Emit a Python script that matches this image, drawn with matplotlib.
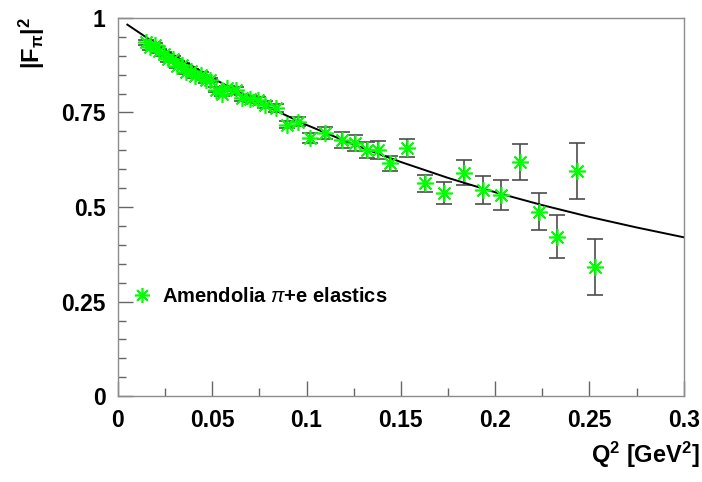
import numpy as np
import matplotlib
matplotlib.use("Agg")
import matplotlib.pyplot as plt
from matplotlib.ticker import MultipleLocator, FixedFormatter, FixedLocator

plt.rcParams['font.family'] = ['Liberation Sans', 'DejaVu Sans']
plt.rcParams['mathtext.fontset'] = 'custom'
plt.rcParams['mathtext.rm'] = 'Liberation Sans'
plt.rcParams['mathtext.bf'] = 'Liberation Sans:bold'
plt.rcParams['mathtext.it'] = 'Liberation Sans:italic'

# Amendolia pi+e elastic data
q2 = [0.0150, 0.0170, 0.0195, 0.0220, 0.0245, 0.0265, 0.0290, 0.0315, 0.0340,
      0.0360, 0.0385, 0.0410, 0.0440, 0.0465, 0.0490, 0.0520, 0.0550, 0.0580,
      0.0625, 0.0660, 0.0700, 0.0740, 0.0780, 0.0840, 0.0896, 0.0954,
      0.1018, 0.1097, 0.1187, 0.1256, 0.1320, 0.1378, 0.1440, 0.1530,
      0.1630, 0.1730, 0.1834, 0.1935, 0.2030, 0.2130, 0.2230, 0.2330,
      0.2433, 0.2528]
ff2 = [0.935, 0.922, 0.928, 0.912, 0.905, 0.890, 0.892, 0.874, 0.875,
       0.858, 0.860, 0.846, 0.850, 0.835, 0.836, 0.810, 0.800, 0.814,
       0.808, 0.788, 0.785, 0.782, 0.770, 0.762, 0.718, 0.725,
       0.682, 0.696, 0.677, 0.669, 0.651, 0.651, 0.616, 0.656,
       0.563, 0.537, 0.590, 0.545, 0.532, 0.619, 0.487, 0.421,
       0.595, 0.341]
err = [0.006, 0.006, 0.006, 0.006, 0.006, 0.006, 0.006, 0.006, 0.006,
       0.006, 0.006, 0.006, 0.006, 0.006, 0.006, 0.007, 0.007, 0.007,
       0.008, 0.008, 0.008, 0.008, 0.009, 0.010, 0.010, 0.012,
       0.014, 0.015, 0.022, 0.022, 0.022, 0.024, 0.020, 0.023,
       0.022, 0.028, 0.033, 0.037, 0.040, 0.048, 0.049, 0.057,
       0.074, 0.074]

# fit curve
curve_q2 = [0.005, 0.025, 0.05, 0.075, 0.1, 0.125, 0.15, 0.175, 0.2, 0.225,
            0.25, 0.275, 0.3]
curve_ff2 = [0.982, 0.915, 0.841, 0.775, 0.717, 0.665, 0.619, 0.577, 0.539,
             0.505, 0.474, 0.446, 0.420]

xticks = [0, 0.05, 0.1, 0.15, 0.2, 0.25, 0.3]
xlabels = ['0', '0.05', '0.1', '0.15', '0.2', '0.25', '0.3']
yticks = [0, 0.25, 0.5, 0.75, 1]
ylabels = ['0', '0.25', '0.5', '0.75', '1']

fig = plt.figure(figsize=(7.02, 4.82), dpi=100)
ax = fig.add_axes([0.168, 0.178, 0.806, 0.785])

ax.plot(curve_q2, curve_ff2, color='black', lw=1.4, zorder=2)
ax.errorbar(q2, ff2, yerr=err, fmt='none', ecolor='0.3', elinewidth=1.2,
            capsize=5.5, capthick=1.2, zorder=1)
ax.plot(q2, ff2, linestyle='none', marker=(8, 2, 0), markersize=12,
        markeredgewidth=1.2, color='#00ff00', zorder=3,
        label=r'Amendolia $\pi$+e elastics')

ax.set_xlim(0, 0.3)
ax.set_ylim(0, 1)
ax.xaxis.set_major_locator(FixedLocator(xticks))
ax.xaxis.set_major_formatter(FixedFormatter(xlabels))
ax.yaxis.set_major_locator(FixedLocator(yticks))
ax.yaxis.set_major_formatter(FixedFormatter(ylabels))
ax.xaxis.set_minor_locator(MultipleLocator(0.025))
ax.yaxis.set_minor_locator(MultipleLocator(0.05))
ax.tick_params(which='both', direction='in', top=False, right=False,
               color='0.4', width=1)
ax.tick_params(which='major', length=11, labelsize=16.5, pad=9)
ax.tick_params(which='minor', length=5.5)
for lab in ax.get_xticklabels() + ax.get_yticklabels():
    lab.set_fontweight('bold')
for sp in ax.spines.values():
    sp.set_color('0.55')
    sp.set_linewidth(1)

leg = ax.legend(loc='lower left', bbox_to_anchor=(0.0, 0.2), frameon=False,
                prop={'weight': 'bold', 'size': 14.5}, handlelength=1.0,
                handletextpad=0.5, borderaxespad=0.3, markerscale=0.9)

fig.text(0.997, 0.025, r'$\mathbf{Q^{2}\ [GeV^{2}]}$', ha='right', va='bottom',
         fontsize=17)
fig.text(0.045, 0.965, r'$\mathbf{|F_{\pi}|^{2}}$', ha='center', va='top',
         rotation=90, fontsize=17)

fig.savefig('out.png', dpi=100)
